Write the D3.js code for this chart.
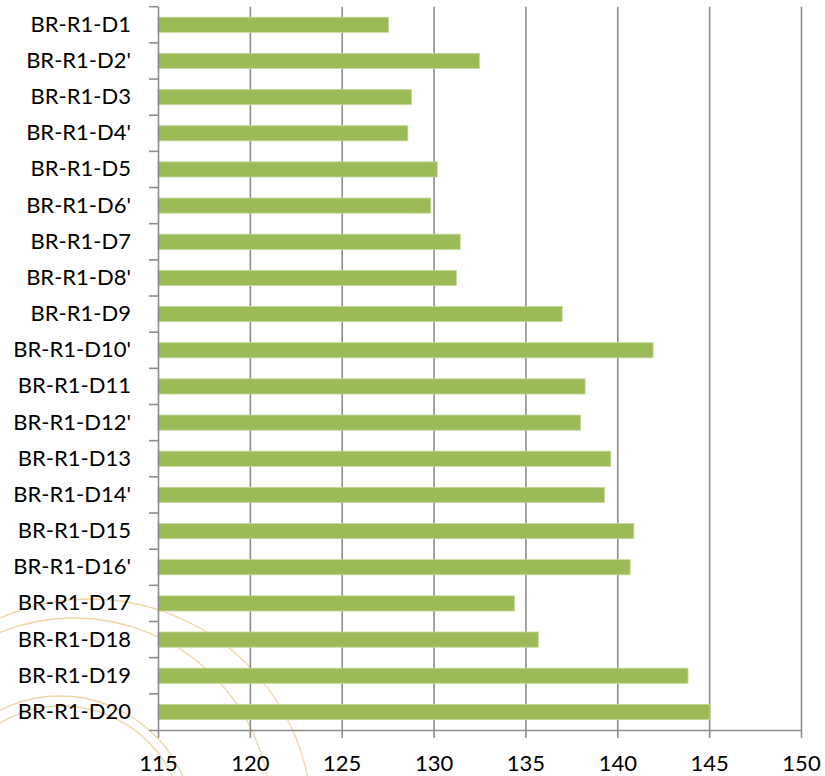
<!DOCTYPE html>
<html>
<head>
<meta charset="utf-8">
<script src="https://cdn.jsdelivr.net/npm/d3@7/dist/d3.min.js"></script>
<style>
  html, body { margin: 0; padding: 0; background: #ffffff; }
  svg { display: block; }
</style>
</head>
<body>
<svg id="chart" width="825" height="776"></svg>
<script>
// Sample identifiers (top to bottom)
const categories = [
  "BR-R1-D1", "BR-R1-D2'", "BR-R1-D3", "BR-R1-D4'", "BR-R1-D5",
  "BR-R1-D6'", "BR-R1-D7", "BR-R1-D8'", "BR-R1-D9", "BR-R1-D10'",
  "BR-R1-D11", "BR-R1-D12'", "BR-R1-D13", "BR-R1-D14'", "BR-R1-D15",
  "BR-R1-D16'", "BR-R1-D17", "BR-R1-D18", "BR-R1-D19", "BR-R1-D20"
];
// Measured value for each sample
const values = [
  127.55, 132.5, 128.8, 128.6, 130.2,
  129.85, 131.45, 131.25, 137.0, 141.95,
  138.25, 138.0, 139.65, 139.3, 140.9,
  140.7, 134.4, 135.7, 143.85, 145.05
];
// Value axis
const xDomain = [115, 150];
const xTicks = [115, 120, 125, 130, 135, 140, 145, 150];

// Decorative background rings: [cx, cy, r]
const rings = [
  [90, 821, 222],
  [74, 815, 197],
  [60, 830, 134],
  [62, 828, 122]
];

(function () {
  const svg = d3.select("#chart");
  const plotLeft = 158, plotRight = 801, plotTop = 6.7, plotBottom = 730;
  const font = "Lato, 'Noto Sans', sans-serif";
  const fontSize = "22px";
  const gridColor = "#8c8c8c";

  const x = d3.scaleLinear().domain(xDomain).range([plotLeft, plotRight]);
  const y = d3.scaleBand().domain(categories).range([plotTop, plotBottom])
    .paddingInner(0.58).paddingOuter(0.29);

  // background rings
  svg.append("g").selectAll("circle").data(rings).join("circle")
    .attr("cx", d => d[0]).attr("cy", d => d[1]).attr("r", d => d[2])
    .attr("fill", "none").attr("stroke", "#f0d6a6").attr("stroke-width", 1.3);

  // vertical gridlines
  const grid = svg.append("g")
    .attr("transform", `translate(0,${plotBottom})`)
    .call(d3.axisBottom(x).tickValues(xTicks.slice(1)).tickSize(-(plotBottom - plotTop)).tickFormat(""));
  grid.select(".domain").remove();
  grid.selectAll("line").attr("stroke", gridColor).attr("stroke-width", 1.6);

  // bars
  const rows = categories.map((c, i) => ({ c, v: values[i] }));
  svg.append("g").selectAll("rect").data(rows).join("rect")
    .attr("x", x(xDomain[0]))
    .attr("y", d => y(d.c))
    .attr("width", d => x(d.v) - x(xDomain[0]))
    .attr("height", y.bandwidth())
    .attr("fill", "#9bbb59")
    .attr("stroke", "#c6d9a0")
    .attr("stroke-width", 0.8);

  // bottom axis
  const xAxis = svg.append("g")
    .attr("transform", `translate(0,${plotBottom})`)
    .call(d3.axisBottom(x).tickValues(xTicks).tickSize(8).tickPadding(17).tickSizeOuter(0));
  xAxis.select(".domain").attr("stroke", gridColor).attr("stroke-width", 1.6)
    .attr("d", `M${plotLeft - 9},0.5H${plotRight}`);
  xAxis.selectAll(".tick line").attr("stroke", gridColor).attr("stroke-width", 1.6);
  xAxis.selectAll("text").attr("fill", "#000")
    .style("font-family", font).style("font-size", fontSize);

  // left category axis: ticks sit between categories
  const yAxis = svg.append("g")
    .attr("transform", `translate(${plotLeft},0)`)
    .call(d3.axisLeft(y).tickSize(0).tickPadding(27));
  yAxis.select(".domain").attr("stroke", gridColor).attr("stroke-width", 1.6)
    .attr("d", `M0.5,${plotTop}V${plotBottom}`);
  yAxis.selectAll("text").attr("fill", "#000")
    .style("font-family", font).style("font-size", fontSize);

  const boundaries = categories.map(c => y(c) - y.step() * y.paddingInner() / 2);
  yAxis.append("g").selectAll("line").data(boundaries.slice(1).concat([plotTop])).join("line")
    .attr("x1", -9).attr("x2", 0)
    .attr("y1", d => d).attr("y2", d => d)
    .attr("stroke", gridColor).attr("stroke-width", 1.6);
})();
</script>
</body>
</html>
